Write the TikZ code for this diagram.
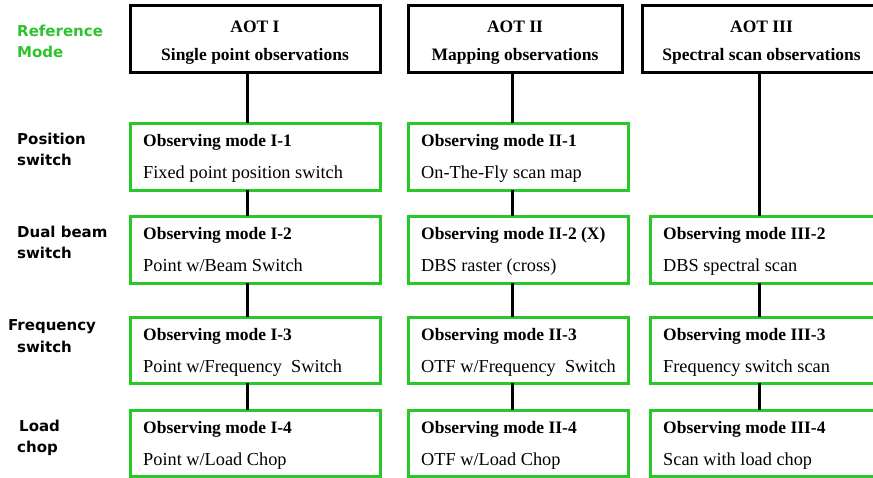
\documentclass[tikz,border=0pt]{standalone}
\usepackage{fontspec}
\setmainfont{Liberation Serif}
\newfontfamily\lblfont{DejaVu Sans}
\usetikzlibrary{calc}
\definecolor{boxgreen}{RGB}{40,200,40}
\definecolor{lblgreen}{RGB}{45,195,45}
\begin{document}
\begin{tikzpicture}[x=1pt,y=-1pt,
  hdrbox/.style={draw=black, line width=3pt, minimum height=67pt, anchor=north west, inner sep=0pt, outer sep=0pt},
  modebox/.style={draw=boxgreen, line width=3pt, minimum height=67pt, anchor=north west, inner sep=0pt, outer sep=0pt},
  hdrtext/.style={font=\fontsize{17.5}{20}\selectfont\bfseries, anchor=base, inner sep=0pt},
  titletext/.style={font=\fontsize{17.5}{20}\selectfont\bfseries, anchor=base west, inner sep=0pt},
  desctext/.style={font=\fontsize{18.3}{20}\selectfont, anchor=base west, inner sep=0pt},
  rowlabel/.style={font=\lblfont\bfseries\fontsize{15}{18}\selectfont, text=black, anchor=base west, inner sep=0pt},
  reflabel/.style={rowlabel, text=lblgreen},
  connector/.style={line width=3pt, draw=black}
]
\useasboundingbox (0,0) rectangle (873,477);
\clip (0,0) rectangle (873,477);

% column x positions of connectors
\coordinate (x1) at (247,0);
\coordinate (x2) at (512,0);
\coordinate (x3) at (759,0);

% connectors (drawn first, boxes on top)
% headers
\node[hdrbox, minimum width=250pt] (h1) at (130,5) {};
\node[hdrbox, minimum width=214pt] (h2) at (408,5) {};
\node[hdrbox, minimum width=239pt] (h3) at (642,5) {};

% mode boxes
\node[modebox, minimum width=250pt] (m11) at (130,123) {};
\node[modebox, minimum width=250pt] (m12) at (130,216) {};
\node[modebox, minimum width=250pt, minimum height=66pt] (m13) at (130,317) {};
\node[modebox, minimum width=250pt, minimum height=66pt] (m14) at (130,410) {};

\node[modebox, minimum width=220pt] (m21) at (408,123) {};
\node[modebox, minimum width=220pt] (m22) at (408,216) {};
\node[modebox, minimum width=220pt, minimum height=66pt] (m23) at (408,317) {};
\node[modebox, minimum width=220pt, minimum height=66pt] (m24) at (408,410) {};

\node[modebox, minimum width=240pt] (m32) at (650,216) {};
\node[modebox, minimum width=240pt, minimum height=66pt] (m33) at (650,317) {};
\node[modebox, minimum width=240pt, minimum height=66pt] (m34) at (650,410) {};

% connectors
\draw[connector] (h1.south -| x1) -- (m11.north -| x1);
\draw[connector] (m11.south -| x1) -- (m12.north -| x1);
\draw[connector] (m12.south -| x1) -- (m13.north -| x1);
\draw[connector] (m13.south -| x1) -- (m14.north -| x1);

\draw[connector] (h2.south -| x2) -- (m21.north -| x2);
\draw[connector] (m21.south -| x2) -- (m22.north -| x2);
\draw[connector] (m22.south -| x2) -- (m23.north -| x2);
\draw[connector] (m23.south -| x2) -- (m24.north -| x2);

\draw[connector] (h3.south -| x3) -- (m32.north -| x3);
\draw[connector] (m32.south -| x3) -- (m33.north -| x3);
\draw[connector] (m33.south -| x3) -- (m34.north -| x3);

% header texts
\node[hdrtext] (h1a) at ([yshift=-27pt]h1.north) {AOT I};
\node[hdrtext] (h1b) at ([yshift=-55pt]h1.north) {Single point observations};
\node[hdrtext] (h2a) at ([yshift=-27pt]h2.north) {AOT II};
\node[hdrtext] (h2b) at ([yshift=-55pt]h2.north) {Mapping observations};
\node[hdrtext] (h3a) at ([yshift=-27pt]h3.north) {AOT III};
\node[hdrtext] (h3b) at ([yshift=-55pt]h3.north) {Spectral scan observations};

% mode texts
\node[titletext] (m11t) at ([xshift=13pt,yshift=-23.5pt]m11.north west) {Observing mode I-1};
\node[desctext]  (m11d) at ([xshift=13pt,yshift=-55.5pt]m11.north west) {Fixed point position switch};
\node[titletext] (m12t) at ([xshift=13pt,yshift=-23.5pt]m12.north west) {Observing mode I-2};
\node[desctext]  (m12d) at ([xshift=13pt,yshift=-55.5pt]m12.north west) {Point w/Beam Switch};
\node[titletext] (m13t) at ([xshift=13pt,yshift=-23.5pt]m13.north west) {Observing mode I-3};
\node[desctext]  (m13d) at ([xshift=13pt,yshift=-55.5pt]m13.north west) {Point w/Frequency\ \ Switch};
\node[titletext] (m14t) at ([xshift=13pt,yshift=-23.5pt]m14.north west) {Observing mode I-4};
\node[desctext]  (m14d) at ([xshift=13pt,yshift=-55.5pt]m14.north west) {Point w/Load Chop};

\node[titletext] (m21t) at ([xshift=13pt,yshift=-23.5pt]m21.north west) {Observing mode II-1};
\node[desctext]  (m21d) at ([xshift=13pt,yshift=-55.5pt]m21.north west) {On-The-Fly scan map};
\node[titletext] (m22t) at ([xshift=13pt,yshift=-23.5pt]m22.north west) {Observing mode II-2 (X)};
\node[desctext]  (m22d) at ([xshift=13pt,yshift=-55.5pt]m22.north west) {DBS raster (cross)};
\node[titletext] (m23t) at ([xshift=13pt,yshift=-23.5pt]m23.north west) {Observing mode II-3};
\node[desctext]  (m23d) at ([xshift=13pt,yshift=-55.5pt]m23.north west) {OTF w/Frequency\ \ Switch};
\node[titletext] (m24t) at ([xshift=13pt,yshift=-23.5pt]m24.north west) {Observing mode II-4};
\node[desctext]  (m24d) at ([xshift=13pt,yshift=-55.5pt]m24.north west) {OTF w/Load Chop};

\node[titletext] (m32t) at ([xshift=13pt,yshift=-23.5pt]m32.north west) {Observing mode III-2};
\node[desctext]  (m32d) at ([xshift=13pt,yshift=-55.5pt]m32.north west) {DBS spectral scan};
\node[titletext] (m33t) at ([xshift=13pt,yshift=-23.5pt]m33.north west) {Observing mode III-3};
\node[desctext]  (m33d) at ([xshift=13pt,yshift=-55.5pt]m33.north west) {Frequency switch scan};
\node[titletext] (m34t) at ([xshift=13pt,yshift=-23.5pt]m34.north west) {Observing mode III-4};
\node[desctext]  (m34d) at ([xshift=13pt,yshift=-55.5pt]m34.north west) {Scan with load chop};

% row labels
\node[reflabel] (lr1) at (17,36) {Reference};
\node[reflabel] (lr2) at (17,57) {Mode};
\node[rowlabel] (lp1) at (17,144) {Position};
\node[rowlabel] (lp2) at (17,165) {switch};
\node[rowlabel] (ld1) at (17,237.5) {Dual beam};
\node[rowlabel] (ld2) at (17,258.5) {switch};
\node[rowlabel] (lf1) at (8,330) {Frequency};
\node[rowlabel] (lf2) at (17,352) {switch};
\node[rowlabel] (ll1) at (19,431) {Load};
\node[rowlabel] (ll2) at (17,452) {chop};
\end{tikzpicture}
\end{document}
